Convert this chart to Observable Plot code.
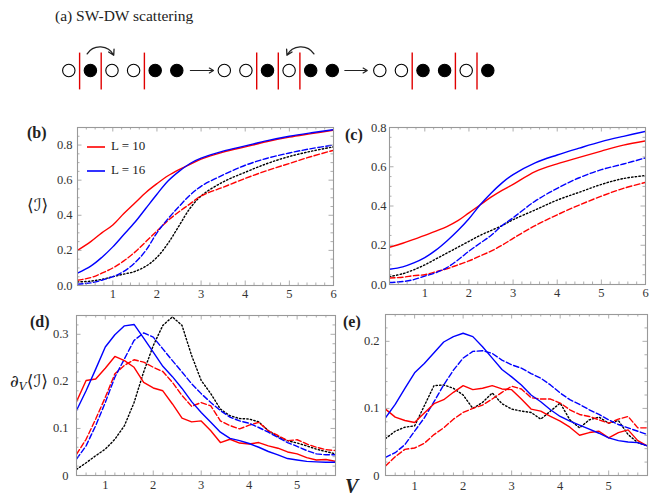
<!DOCTYPE html>
<html><head><meta charset="utf-8">
<script src="https://cdn.jsdelivr.net/npm/d3@7"></script>
<script src="https://cdn.jsdelivr.net/npm/@observablehq/plot@0.6"></script>
<style>
body{margin:0;background:#fff}
#fig{position:relative;width:657px;height:498px;overflow:hidden;font-family:"Liberation Serif","DejaVu Serif",serif;color:#222}
.abs{position:absolute;white-space:nowrap;line-height:1}
svg{position:absolute}
</style></head>
<body><div id="fig"></div>
<script>
// ---------- schematic (a) ----------
const siteConfigs = [[0,1,0,0,1,1],[0,0,1,0,1,1],[0,0,1,1,0,1]];
const groupOffsets = [0, 7.2, 14.4];
const wallPositions = [[0.5,1.5,3.5],[1.5,2.5,3.5],[1.5,3.5,4.5]];
const hopFrom = [0.85, 11.35];
const hopTo = [2.08, 10.1];
const stepFrom = [5.63, 12.78];
const stepTo = [6.7, 13.82];

// ---------- panel (b) ----------
const bX = [0.2,0.5,0.75,1,1.25,1.5,1.75,2,2.25,2.5,2.75,3,3.5,4,4.5,5,5.5,6];
const bRedSolid  = [0.2,0.25,0.30,0.345,0.41,0.47,0.53,0.58,0.625,0.66,0.69,0.72,0.76,0.79,0.82,0.845,0.865,0.885];
const bBlueSolid = [0.07,0.11,0.16,0.22,0.29,0.36,0.44,0.52,0.595,0.65,0.695,0.725,0.765,0.795,0.825,0.85,0.87,0.888];
const bRedDash   = [0.03,0.045,0.07,0.10,0.14,0.19,0.25,0.31,0.37,0.42,0.465,0.51,0.56,0.61,0.655,0.695,0.735,0.77];
const bBlueDash  = [0.008,0.015,0.03,0.05,0.08,0.13,0.2,0.30,0.38,0.45,0.515,0.565,0.63,0.685,0.725,0.755,0.78,0.80];
const bBlack     = [0.02,0.025,0.035,0.05,0.065,0.08,0.11,0.16,0.24,0.34,0.44,0.51,0.59,0.645,0.695,0.735,0.765,0.79];

// ---------- panel (c) ----------
const cX = bX;
const cRedSolid  = [0.19,0.21,0.23,0.25,0.272,0.295,0.325,0.365,0.405,0.445,0.48,0.51,0.575,0.615,0.648,0.68,0.71,0.732];
const cBlueSolid = [0.078,0.09,0.11,0.137,0.175,0.222,0.275,0.335,0.405,0.465,0.518,0.56,0.62,0.66,0.695,0.728,0.755,0.78];
const cRedDash   = [0.033,0.037,0.045,0.05,0.065,0.08,0.10,0.12,0.145,0.17,0.20,0.235,0.30,0.355,0.405,0.45,0.49,0.52];
const cBlueDash  = [0.01,0.015,0.025,0.043,0.06,0.086,0.125,0.17,0.21,0.25,0.30,0.34,0.425,0.49,0.544,0.585,0.614,0.645];
const cBlack     = [0.04,0.055,0.075,0.10,0.13,0.16,0.19,0.22,0.25,0.275,0.30,0.33,0.38,0.43,0.47,0.51,0.54,0.555];

// ---------- panel (d) ----------
const dX = [0.4,0.6,0.8,1.0,1.2,1.4,1.6,1.8,2.0,2.2,2.4,2.6,2.8,3.0,3.2,3.4,3.6,3.8,4.0,4.2,4.4,4.6,4.8,5.0,5.2,5.4,5.6,5.8];
const dRedSolid  = [0.157,0.202,0.205,0.228,0.253,0.244,0.23,0.198,0.186,0.18,0.152,0.122,0.114,0.116,0.095,0.07,0.077,0.069,0.067,0.07,0.063,0.058,0.05,0.046,0.038,0.033,0.034,0.030];
const dBlueSolid = [0.138,0.18,0.226,0.273,0.299,0.318,0.321,0.292,0.262,0.232,0.21,0.185,0.157,0.134,0.113,0.092,0.079,0.074,0.068,0.06,0.051,0.044,0.036,0.033,0.03,0.029,0.028,0.028];
const dRedDash   = [0.045,0.077,0.12,0.166,0.216,0.234,0.246,0.241,0.23,0.221,0.198,0.17,0.147,0.155,0.148,0.116,0.106,0.099,0.107,0.113,0.095,0.085,0.074,0.076,0.067,0.06,0.055,0.053];
const dBlueDash  = [0.035,0.063,0.106,0.155,0.209,0.248,0.287,0.303,0.294,0.269,0.244,0.22,0.195,0.174,0.155,0.138,0.124,0.116,0.111,0.102,0.092,0.081,0.07,0.062,0.053,0.046,0.044,0.044];
const dBlack     = [0.013,0.027,0.042,0.056,0.077,0.106,0.155,0.22,0.276,0.319,0.337,0.319,0.255,0.202,0.174,0.141,0.127,0.121,0.12,0.114,0.095,0.083,0.074,0.069,0.063,0.056,0.051,0.046];

// ---------- panel (e) ----------
const eX = dX;
const eRedSolid  = [0.099,0.087,0.082,0.079,0.093,0.107,0.113,0.124,0.134,0.128,0.13,0.134,0.129,0.128,0.114,0.099,0.096,0.088,0.081,0.072,0.06,0.064,0.066,0.056,0.064,0.068,0.052,0.044];
const eBlueSolid = [0.086,0.106,0.13,0.153,0.167,0.183,0.199,0.207,0.212,0.207,0.192,0.175,0.158,0.147,0.135,0.12,0.11,0.098,0.088,0.081,0.075,0.069,0.063,0.056,0.052,0.05,0.049,0.044];
const eRedDash   = [0.014,0.028,0.039,0.041,0.048,0.061,0.071,0.084,0.094,0.1,0.105,0.114,0.124,0.133,0.129,0.116,0.114,0.114,0.108,0.098,0.091,0.088,0.083,0.078,0.084,0.088,0.071,0.071];
const eBlueDash  = [0.027,0.034,0.046,0.066,0.086,0.11,0.135,0.157,0.175,0.185,0.186,0.182,0.172,0.165,0.16,0.152,0.145,0.135,0.123,0.113,0.106,0.098,0.091,0.083,0.076,0.071,0.066,0.061];
const eBlack     = [0.055,0.066,0.072,0.074,0.104,0.134,0.135,0.13,0.12,0.1,0.109,0.123,0.107,0.099,0.096,0.094,0.084,0.096,0.108,0.083,0.071,0.083,0.087,0.078,0.082,0.061,0.049,0.044];

// ---------- tick labels ----------
const bcXTicks = [1,2,3,4,5,6];
const deXTicks = [1,2,3,4,5];
const bYTicks = [0,0.2,0.4,0.6,0.8];
const cYTicks = [0,0.2,0.4,0.6,0.8];
const dYTicks = [0,0.1,0.2,0.3];
const eYTicks = [0,0.1,0.2];
const legendLabels = ["L = 10", "L = 16"];

const RED = "#ff0000", BLUE = "#0000ff", BLACK = "#000";
const DASH = "5.5,2.5", DOT = "1.4,2.2";
const FRAME = "#999", TXT = "#333";
const SERIF = "'Liberation Serif', 'DejaVu Serif', serif";
const fig = document.getElementById("fig");

function put(svg, left, top) { svg.style.left = left + "px"; svg.style.top = top + "px"; fig.appendChild(svg); }
function html(text, left, top, style) {
  const d = document.createElement("div"); d.className = "abs"; d.innerHTML = text;
  d.style.left = left + "px"; d.style.top = top + "px"; Object.assign(d.style, style || {});
  fig.appendChild(d); return d;
}
const zip = (xs, ys) => xs.map((x, i) => ({x, y: ys[i]}));

// schematic
{
  const sites = [];
  siteConfigs.forEach((cfg, g) => cfg.forEach((f, i) => sites.push({x: groupOffsets[g] + i, filled: f})));
  const walls = [];
  wallPositions.forEach((ws, g) => ws.forEach(w => walls.push({x: groupOffsets[g] + w})));
  const hops = hopFrom.map((x1, i) => ({x1, x2: hopTo[i], y1: 0.83, y2: 0.76}));
  const steps = stepFrom.map((x1, i) => ({x1, x2: stepTo[i], y1: 0, y2: 0}));
  const svg = Plot.plot({
    width: 657, height: 100, margin: 0,
    x: {domain: [0, 19.4], range: [68.3, 487.3], axis: null},
    y: {domain: [-1, 1], range: [90, 50], axis: null},
    color: {type: "identity"},
    marks: [
      Plot.ruleX(walls, {x: "x", y1: -0.97, y2: 0.87, stroke: "#e00000", strokeWidth: 1.4}),
      Plot.dot(sites, {x: "x", y: 0, r: 6.2, stroke: "black", strokeWidth: 1.1, fill: d => d.filled ? "black" : "white"}),
      Plot.arrow([hops[0]], {x1: "x1", y1: "y1", x2: "x2", y2: "y2", bend: 60, headLength: 7, strokeWidth: 1.3}),
      Plot.arrow([hops[1]], {x1: "x1", y1: "y1", x2: "x2", y2: "y2", bend: -60, headLength: 7, strokeWidth: 1.3}),
      Plot.arrow(steps, {x1: "x1", y1: "y1", x2: "x2", y2: "y2", headLength: 6, strokeWidth: 1.2})
    ]
  });
  put(svg, 0, 0);
  html("(a) SW-DW scattering", 55, 8, {fontSize: "15.5px", fontFamily: SERIF});
}

function panel(cfg) {
  const {left, top, width, height, ml, mr, mt, mb, xDomain, yDomain, xMajor, xMinor, yMajor, yMinor, yFmt, xPad, yPad, series, curve} = cfg;
  const fw = width - ml - mr, fh = height - mt - mb;
  const M = 4.5, m = 2.5;
  const ts = {stroke: FRAME, strokeWidth: 0.8};
  const marks = [];
  series.forEach(s => marks.push(Plot.line(s.data, {x: "x", y: "y", stroke: s.color, strokeWidth: 1.4, strokeDasharray: s.dash, curve, clip: true})));
  marks.push(
    Plot.tickX(xMajor, {x: d => d, insetTop: fh - M, ...ts}),
    Plot.tickX(xMajor, {x: d => d, insetBottom: fh - M, ...ts}),
    Plot.tickX(xMinor, {x: d => d, insetTop: fh - m, ...ts}),
    Plot.tickX(xMinor, {x: d => d, insetBottom: fh - m, ...ts}),
    Plot.tickY(yMajor, {y: d => d, insetRight: fw - M, ...ts}),
    Plot.tickY(yMajor, {y: d => d, insetLeft: fw - M, ...ts}),
    Plot.tickY(yMinor, {y: d => d, insetRight: fw - m, ...ts}),
    Plot.tickY(yMinor, {y: d => d, insetLeft: fw - m, ...ts}),
    Plot.frame({stroke: FRAME, strokeWidth: 1.1}),
    Plot.axisX({ticks: xMajor, anchor: "bottom", tickSize: 0, tickPadding: xPad, tickFormat: d => String(d), color: TXT, fontSize: 12.5, label: null}),
    Plot.axisY({ticks: yMajor, anchor: "left", tickSize: 0, tickPadding: yPad, tickFormat: yFmt, color: TXT, fontSize: 12.5, label: null})
  );
  const svg = Plot.plot({
    width, height, marginLeft: ml, marginRight: mr, marginTop: mt, marginBottom: mb,
    x: {domain: xDomain, label: null}, y: {domain: yDomain, label: null},
    style: {fontFamily: SERIF, fontSize: "12.5px", background: "none", overflow: "visible"},
    marks
  });
  put(svg, left, top);
}

const minor = (a, b, step, majors) => d3.range(Math.round((b - a) / step) + 1).map(i => +(a + i * step).toFixed(4)).filter(v => !majors.some(M => Math.abs(M - v) < 1e-6));
const fmt1 = d => d.toFixed(1);
const fmt0 = d => d === 0 ? "0" : d.toFixed(1);

const mk = (x, rs, bs, rd, bd, bk) => [
  {data: zip(x, bk), color: BLACK, dash: DOT},
  {data: zip(x, rd), color: RED, dash: DASH},
  {data: zip(x, bd), color: BLUE, dash: DASH},
  {data: zip(x, rs), color: RED, dash: null},
  {data: zip(x, bs), color: BLUE, dash: null}
];

panel({left: 0, top: 110, width: 340, height: 195, ml: 77, mr: 7, mt: 17, mb: 20,
  xDomain: [0.2, 6], yDomain: [0, 0.9], xMajor: bcXTicks, xMinor: minor(0.2, 6, 0.2, bcXTicks),
  yMajor: bYTicks, yMinor: minor(0, 0.9, 0.05, bYTicks), yFmt: fmt1, xPad: 4, yPad: 5,
  series: mk(bX, bRedSolid, bBlueSolid, bRedDash, bBlueDash, bBlack), curve: "catmull-rom"});
panel({left: 340, top: 110, width: 317, height: 195, ml: 49, mr: 12, mt: 17, mb: 21,
  xDomain: [0.2, 6], yDomain: [0, 0.8], xMajor: bcXTicks, xMinor: minor(0.2, 6, 0.2, bcXTicks),
  yMajor: cYTicks, yMinor: minor(0, 0.8, 0.05, cYTicks), yFmt: fmt1, xPad: 4, yPad: 3,
  series: mk(cX, cRedSolid, cBlueSolid, cRedDash, cBlueDash, cBlack), curve: "catmull-rom"});
panel({left: 0, top: 300, width: 340, height: 198, ml: 76, mr: 5, mt: 15, mb: 23,
  xDomain: [0.4, 5.8], yDomain: [0, 0.34], xMajor: deXTicks, xMinor: minor(0.4, 5.8, 0.2, deXTicks),
  yMajor: dYTicks, yMinor: minor(0, 0.34, 0.02, dYTicks), yFmt: fmt0, xPad: 5, yPad: 8,
  series: mk(dX, dRedSolid, dBlueSolid, dRedDash, dBlueDash, dBlack), curve: "linear"});
panel({left: 340, top: 300, width: 317, height: 198, ml: 45, mr: 10, mt: 14, mb: 23,
  xDomain: [0.4, 5.8], yDomain: [0, 0.24], xMajor: deXTicks, xMinor: minor(0.4, 5.8, 0.2, deXTicks),
  yMajor: eYTicks, yMinor: minor(0, 0.24, 0.02, eYTicks), yFmt: fmt0, xPad: 6, yPad: 6,
  series: mk(eX, eRedSolid, eBlueSolid, eRedDash, eBlueDash, eBlack), curve: "linear"});

// panel labels & axis titles
const lab = {fontSize: "16px", fontWeight: "bold", color: "#222", fontFamily: SERIF};
html("(b)", 27, 125, lab);
html("(c)", 345, 127, lab);
html("(d)", 30, 314, lab);
html("(e)", 343, 314, lab);
const mathStyle = {fontFamily: "'DejaVu Serif', 'DejaVu Sans', serif", fontSize: "17px", color: "#222"};
html("⟨ℐ⟩", 27, 197, mathStyle);
html("∂<sub style='font-style:italic;font-size:11px;vertical-align:-3px'>V</sub>⟨ℐ⟩", 10, 373, mathStyle);
html("<i>V</i>", 345, 476, {fontSize: "20px", fontFamily: SERIF, fontWeight: "bold", color: "#222"});

// legend (b)
legendLabels.forEach((t, i) => {
  const c = i === 0 ? RED : BLUE;
  html(`<svg width="18" height="4" style="position:relative;display:inline-block;vertical-align:middle;margin-right:6px"><line x1="0" x2="18" y1="2" y2="2" stroke="${c}" stroke-width="1.6"/></svg>${t}`,
    87, 139 + i * 24, {fontSize: "13px", color: "#222", fontFamily: SERIF});
});
</script>
</body></html>
